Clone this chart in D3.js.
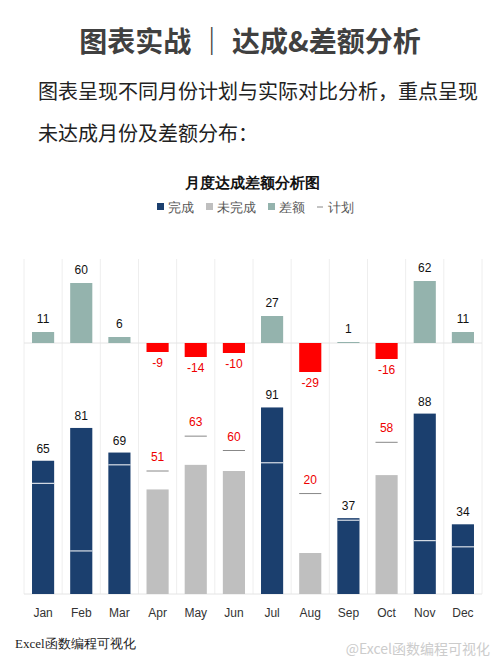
<!DOCTYPE html>
<html><head><meta charset="utf-8">
<script src="https://cdn.jsdelivr.net/npm/d3@7"></script>
<style>body{margin:0;background:#fff;font-family:"Noto Sans CJK SC",sans-serif}</style>
</head><body>
<svg id="c" width="500" height="667"></svg>
<script>
const months = ["Jan","Feb","Mar","Apr","May","Jun","Jul","Aug","Sep","Oct","Nov","Dec"];
const actual = [65,81,69,51,63,60,91,20,37,58,88,34];
const plan = [54,21,63,60,77,70,64,49,36,74,26,23];
const diff = [11,60,6,-9,-14,-10,27,-29,1,-16,62,11];

const svg = d3.select("#c");
svg.append("text").attr("x",250).attr("y",52).attr("text-anchor","middle")
  .attr("font-size",28).attr("font-weight","bold").attr("fill","#404040")
  .text("图表实战 ｜ 达成&差额分析");
svg.append("text").attr("x",38).attr("y",99).attr("font-size",20).attr("fill","#222")
  .text("图表呈现不同月份计划与实际对比分析，重点呈现");
svg.append("text").attr("x",38).attr("y",141).attr("font-size",20).attr("fill","#222")
  .text("未达成月份及差额分布：");
svg.append("text").attr("x",252).attr("y",188).attr("text-anchor","middle")
  .attr("font-size",15).attr("font-weight","bold").attr("font-family","serif").attr("fill","#111")
  .text("月度达成差额分析图");

const legend = [["完成","#1b3f6e","rect"],["未完成","#bfbfbf","rect"],["差额","#94b3ad","rect"],["计划","#888","line"]];
let lx = 157;
legend.forEach(([t,c,k]) => {
  if (k === "rect") svg.append("rect").attr("x",lx).attr("y",203).attr("width",7).attr("height",7).attr("fill",c);
  else svg.append("line").attr("x1",lx).attr("x2",lx+6).attr("y1",207).attr("y2",207).attr("stroke",c);
  svg.append("text").attr("x",lx+11).attr("y",212).attr("font-size",13).attr("font-family","serif").attr("fill","#555").text(t);
  lx += 11 + t.length*13 + 12;
});

const x = d3.scaleBand().domain(months).range([24,482]).paddingInner(0.42).paddingOuter(0.21);
const step = x.step();
const yA = d3.scaleLinear().domain([0,100]).range([594,389]);
const yD = d3.scaleLinear().domain([-30,70]).range([373,273]);
const g = svg.append("g");

// grid
g.selectAll(".vg").data(d3.range(13)).join("line")
  .attr("x1",i=>24+i*step).attr("x2",i=>24+i*step).attr("y1",259).attr("y2",594)
  .attr("stroke","#eee");
[yD(0), yA(0)].forEach(y => g.append("line").attr("x1",24).attr("x2",482).attr("y1",y).attr("y2",y).attr("stroke","#e4e4e4"));

// actual bars
g.selectAll(".a").data(months).join("rect")
  .attr("x",d=>x(d)).attr("width",x.bandwidth())
  .attr("y",(d,i)=>yA(actual[i])).attr("height",(d,i)=>yA(0)-yA(actual[i]))
  .attr("fill",(d,i)=>actual[i]>=plan[i]?"#1b3f6e":"#bfbfbf");
g.selectAll(".al").data(months).join("text")
  .attr("x",d=>x(d)+x.bandwidth()/2).attr("y",(d,i)=>yA(Math.max(actual[i],plan[i]))-(actual[i]>=plan[i]?8:10))
  .attr("text-anchor","middle").attr("font-size",12).attr("font-family","Liberation Sans, sans-serif")
  .attr("fill",(d,i)=>actual[i]>=plan[i]?"#111":"#e00")
  .text((d,i)=>actual[i]);
// plan marks
g.selectAll(".p").data(months).join("line")
  .attr("x1",d=>x(d)).attr("x2",d=>x(d)+x.bandwidth())
  .attr("y1",(d,i)=>yA(plan[i])).attr("y2",(d,i)=>yA(plan[i]))
  .attr("stroke",(d,i)=>actual[i]>=plan[i]?"#fff":"#888").attr("stroke-width",1);

// diff bars
g.selectAll(".d").data(months).join("rect")
  .attr("x",d=>x(d)).attr("width",x.bandwidth())
  .attr("y",(d,i)=>yD(Math.max(0,diff[i]))).attr("height",(d,i)=>Math.abs(yD(diff[i])-yD(0)))
  .attr("fill",(d,i)=>diff[i]>=0?"#94b3ad":"#ff0000");
g.selectAll(".dl").data(months).join("text")
  .attr("x",d=>x(d)+x.bandwidth()/2)
  .attr("y",(d,i)=>diff[i]>=0?yD(diff[i])-9:yD(diff[i])+15)
  .attr("text-anchor","middle").attr("font-size",12).attr("font-family","Liberation Sans, sans-serif")
  .attr("fill",(d,i)=>diff[i]>=0?"#111":"#e00")
  .text((d,i)=>diff[i]);

// x axis labels
g.selectAll(".xl").data(months).join("text")
  .attr("x",d=>x(d)+x.bandwidth()/2).attr("y",617).attr("text-anchor","middle")
  .attr("font-size",12).attr("font-family","Liberation Sans, sans-serif").attr("fill","#333").text(d=>d);

svg.append("text").attr("x",15).attr("y",648).attr("font-size",13).attr("font-family","serif").attr("fill","#222")
  .text("Excel函数编程可视化");
svg.append("text").attr("x",490).attr("y",654).attr("text-anchor","end").attr("font-size",14)
  .attr("fill","#ccc").text("@Excel函数编程可视化");
</script>
</body></html>
